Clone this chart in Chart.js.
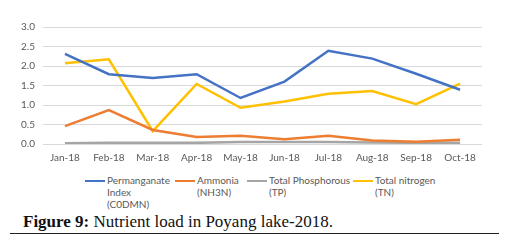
<!DOCTYPE html>
<html>
<head>
<meta charset="utf-8">
<script src="https://cdn.jsdelivr.net/npm/chart.js@4"></script>
<style>
  body { margin: 0; background: #fff; width: 517px; height: 242px; position: relative; overflow: hidden; }
  #wrap { position: absolute; left: 0; top: 0; width: 517px; height: 170px; }
  #legend { position: absolute; top: 174px; left: 0; width: 517px; height: 40px; font-family: Lato, sans-serif; font-size: 10px; color: #595959; }
  .item { position: absolute; top: 0; display: flex; align-items: flex-start; }
  .item .swatch { width: 20px; height: 0; border-top: 2.5px solid; margin-top: 6px; margin-right: 2px; }
  .item .txt { line-height: 12px; }
  #caption { position: absolute; left: 23px; top: 212px; font-family: "Liberation Serif", serif; font-size: 17px; color: #111; white-space: nowrap; }
  #rule { position: absolute; left: 10px; top: 233px; width: 489px; height: 1px; background: #222; }
</style>
</head>
<body>
<div id="wrap"><canvas id="chart" width="517" height="170"></canvas></div>
<div id="legend"></div>
<div id="caption"><b>Figure 9:</b> Nutrient load in Poyang lake-2018.</div>
<div id="rule"></div>
<script>
// data
const months = ['Jan-18', 'Feb-18', 'Mar-18', 'Apr-18', 'May-18', 'Jun-18', 'Jul-18', 'Aug-18', 'Sep-18', 'Oct-18'];
const permanganate = [2.31, 1.79, 1.69, 1.79, 1.18, 1.6, 2.39, 2.19, 1.8, 1.39];
const ammonia = [0.46, 0.87, 0.36, 0.18, 0.21, 0.12, 0.21, 0.09, 0.06, 0.11];
const phosphorous = [0.02, 0.03, 0.03, 0.03, 0.05, 0.05, 0.05, 0.04, 0.03, 0.03];
const nitrogen = [2.07, 2.17, 0.33, 1.54, 0.93, 1.09, 1.29, 1.36, 1.02, 1.55];
const seriesNames = [
    ['Permanganate', 'Index', '(C0DMN)'],
    ['Ammonia', '(NH3N)'],
    ['Total Phosphorous', '(TP)'],
    ['Total nitrogen', '(TN)']
];
const colors = ['#4472C4', '#ED7D31', '#A5A5A5', '#FFC000'];
const yTicks = [0, 0.5, 1, 1.5, 2, 2.5, 3];

const allValues = [permanganate, ammonia, phosphorous, nitrogen];
const legendX = [85, 175, 247, 353];

const datasets = allValues.map((vals, i) => ({
    label: seriesNames[i].join(' '),
    data: vals,
    borderColor: colors[i],
    backgroundColor: colors[i],
    borderWidth: 2.5,
    pointRadius: 0,
    tension: 0,
    fill: false
}));

// html legend (labels wrap over several lines like the original)
const legend = document.getElementById('legend');
seriesNames.forEach((lines, i) => {
    const item = document.createElement('div');
    item.className = 'item';
    item.style.left = legendX[i] + 'px';
    item.innerHTML = `<div class="swatch" style="border-color:${colors[i]}"></div><div class="txt">${lines.join('<br>')}</div>`;
    legend.appendChild(item);
});

const ctx = document.getElementById('chart').getContext('2d');
new Chart(ctx, {
    type: 'line',
    data: { labels: months, datasets: datasets },
    options: {
        responsive: false,
        animation: false,
        devicePixelRatio: 1,
        layout: { padding: { top: 27, right: 35, left: 0, bottom: 0 } },
        plugins: { legend: { display: false }, tooltip: { enabled: false } },
        scales: {
            x: {
                offset: true,
                grid: { display: false, drawTicks: false },
                border: { display: false },
                ticks: { color: '#595959', font: { family: 'Lato', size: 10 }, padding: 8, maxRotation: 0, autoSkip: false },
                afterFit: s => { s.height = 26; }
            },
            y: {
                min: 0,
                max: 3,
                afterBuildTicks: s => { s.ticks = yTicks.map(v => ({ value: v })); },
                grid: { color: '#D9D9D9', lineWidth: 1, drawTicks: false },
                border: { display: false },
                ticks: { color: '#595959', font: { family: 'Lato', size: 10 }, padding: 8, callback: v => v.toFixed(1) },
                afterFit: s => { s.width = 43; }
            }
        }
    }
});
</script>
</body>
</html>
